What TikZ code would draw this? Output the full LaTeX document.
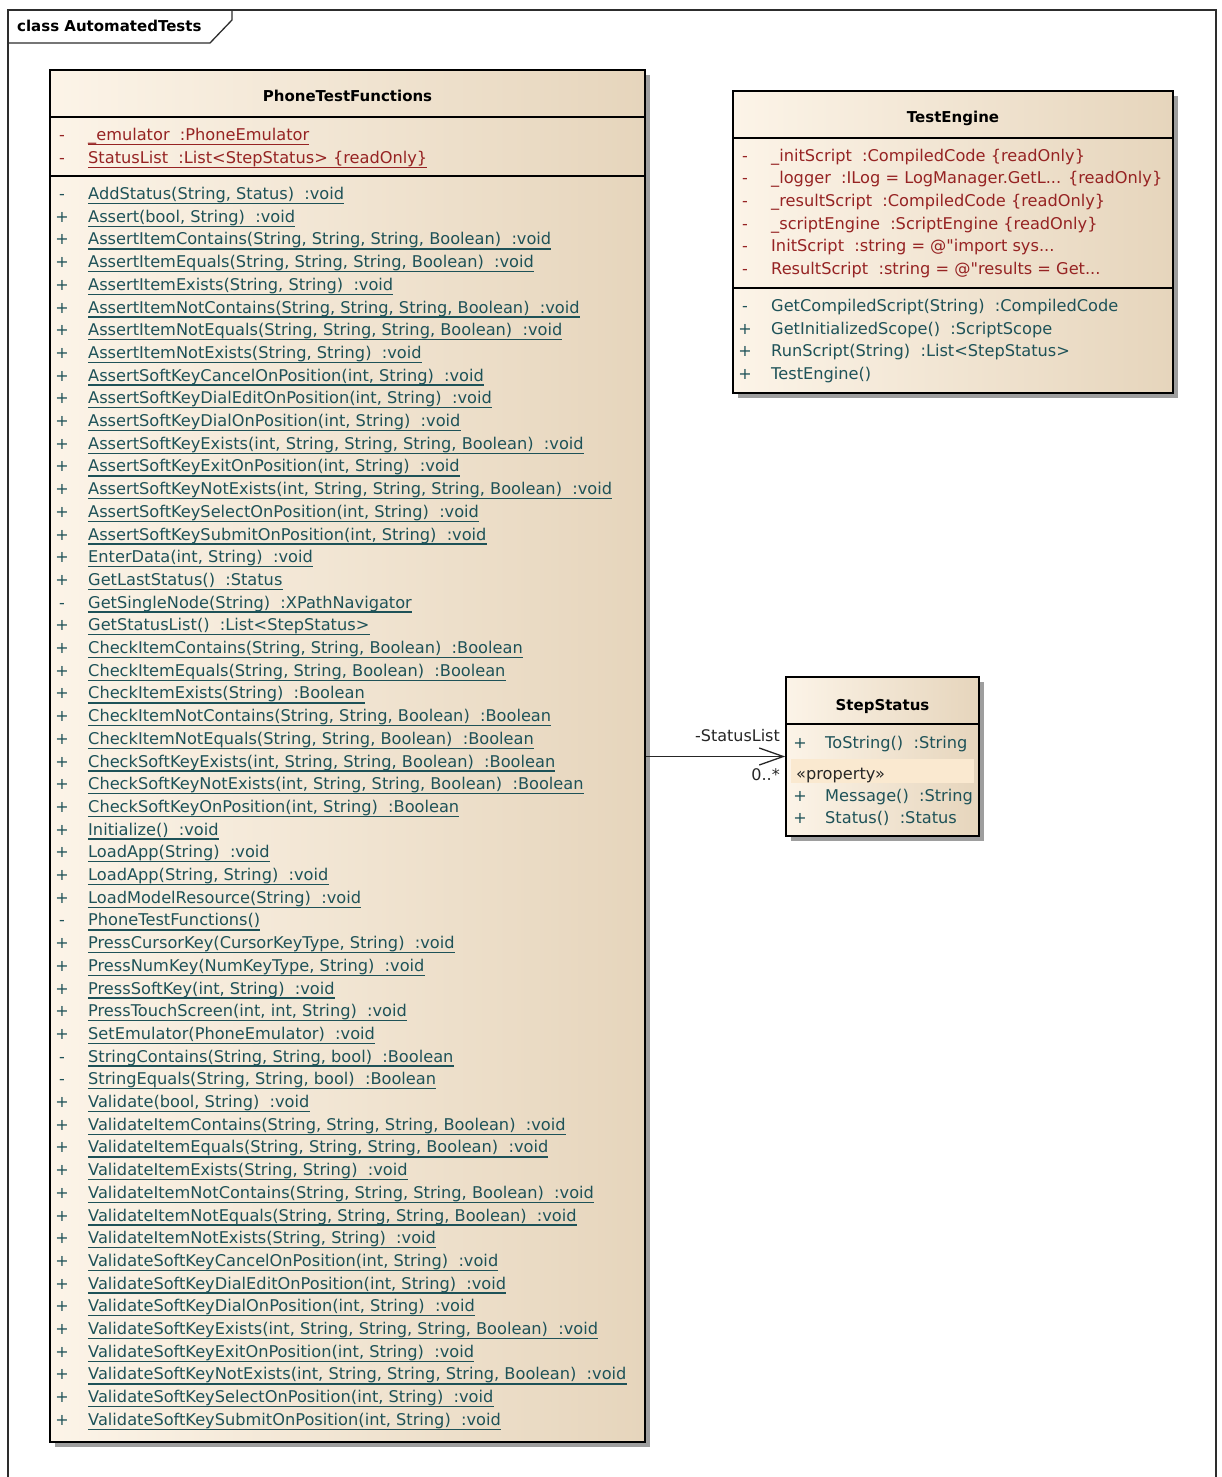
\documentclass[tikz,border=0pt]{standalone}
\usepackage{fontspec}
% no TeX input mapping, so a typed " stays a straight double quote
\setmainfont{DejaVu Sans}[Ligatures=TeXOff]
\usetikzlibrary{shadows,arrows.meta}

\definecolor{attrred}{RGB}{150,35,35}
\definecolor{opteal}{RGB}{30,82,88}
\definecolor{fillL}{RGB}{252,244,232}
\definecolor{fillR}{RGB}{230,213,188}
\definecolor{propband}{RGB}{250,233,208}
\definecolor{framegray}{RGB}{45,45,45}

% three dots kept out of the \foreach list syntax
\newcommand\trunc{...}

\tikzset{
  classbox/.style={draw=black, line width=1.6pt, left color=fillL, right color=fillR,
    inner sep=0pt, rectangle,
    drop shadow={shadow xshift=5pt, shadow yshift=-5pt, fill=black!38, opacity=1}},
  compline/.style={black, line width=1.4pt},
  frameline/.style={framegray, line width=1.3pt},
  classname/.style={font=\fontsize{15}{18}\selectfont\bfseries, inner sep=0pt, anchor=base},
  member/.style={font=\fontsize{16.2}{19}\selectfont, inner sep=0pt, anchor=base west},
  vissym/.style={font=\fontsize{16}{19}\selectfont, inner sep=0pt, anchor=base},
  uline/.style={line width=1.3pt},
  assoc/.style={black!85, line width=1.3pt, -{Straight Barb[length=24pt, width=17pt, line width=1.3pt]}},
  rolelabel/.style={font=\fontsize{16}{19}\selectfont, inner sep=0pt, anchor=base east, text=black!85}
}

\begin{document}
\begin{tikzpicture}[x=1pt, y=-1pt]
\useasboundingbox (0,0) rectangle (1221,1477);
\fill[white] (0,0) rectangle (1221,1477);

% package frame with its name tab
\draw[frameline] (8,1477) -- (8,10) -- (1216,10) -- (1216,1477);
\draw[frameline] (8,43) -- (210,43) -- (232,20) -- (232,10);
\node[font=\fontsize{15}{18}\selectfont\bfseries, inner sep=0pt, anchor=base west] (pkg) at (17,32) {class AutomatedTests};

% ---------------- PhoneTestFunctions ----------------
\node[classbox, minimum width=595pt, minimum height=1372pt] (ptf) at (347.5,756) {};
\draw[compline] (ptf.west |- 0,117) -- (ptf.east |- 0,117);
\draw[compline] (ptf.west |- 0,176) -- (ptf.east |- 0,176);
\node[classname] (ptfname) at (347.5,101.5) {PhoneTestFunctions};

\foreach \vis/\txt [count=\i] in {
  -/{\_emulator~~:PhoneEmulator},
  -/{StatusList~~:List<StepStatus> \{readOnly\}}}
{
  \pgfmathsetmacro\yy{140.5+23*(\i-1)}
  \node[vissym, text=attrred] (pav\i) at (62,\yy) {\vis};
  \node[member, text=attrred] (pa\i) at (88,\yy) {\txt};
  \draw[uline, attrred] ([yshift=-4pt]pa\i.base west) -- ([yshift=-4pt]pa\i.base east);
}

\foreach \vis/\txt [count=\i] in {
  -/{AddStatus(String, Status)~~:void},
  +/{Assert(bool, String)~~:void},
  +/{AssertItemContains(String, String, String, Boolean)~~:void},
  +/{AssertItemEquals(String, String, String, Boolean)~~:void},
  +/{AssertItemExists(String, String)~~:void},
  +/{AssertItemNotContains(String, String, String, Boolean)~~:void},
  +/{AssertItemNotEquals(String, String, String, Boolean)~~:void},
  +/{AssertItemNotExists(String, String)~~:void},
  +/{AssertSoftKeyCancelOnPosition(int, String)~~:void},
  +/{AssertSoftKeyDialEditOnPosition(int, String)~~:void},
  +/{AssertSoftKeyDialOnPosition(int, String)~~:void},
  +/{AssertSoftKeyExists(int, String, String, String, Boolean)~~:void},
  +/{AssertSoftKeyExitOnPosition(int, String)~~:void},
  +/{AssertSoftKeyNotExists(int, String, String, String, Boolean)~~:void},
  +/{AssertSoftKeySelectOnPosition(int, String)~~:void},
  +/{AssertSoftKeySubmitOnPosition(int, String)~~:void},
  +/{EnterData(int, String)~~:void},
  +/{GetLastStatus()~~:Status},
  -/{GetSingleNode(String)~~:XPathNavigator},
  +/{GetStatusList()~~:List<StepStatus>},
  +/{CheckItemContains(String, String, Boolean)~~:Boolean},
  +/{CheckItemEquals(String, String, Boolean)~~:Boolean},
  +/{CheckItemExists(String)~~:Boolean},
  +/{CheckItemNotContains(String, String, Boolean)~~:Boolean},
  +/{CheckItemNotEquals(String, String, Boolean)~~:Boolean},
  +/{CheckSoftKeyExists(int, String, String, Boolean)~~:Boolean},
  +/{CheckSoftKeyNotExists(int, String, String, Boolean)~~:Boolean},
  +/{CheckSoftKeyOnPosition(int, String)~~:Boolean},
  +/{Initialize()~~:void},
  +/{LoadApp(String)~~:void},
  +/{LoadApp(String, String)~~:void},
  +/{LoadModelResource(String)~~:void},
  -/{PhoneTestFunctions()},
  +/{PressCursorKey(CursorKeyType, String)~~:void},
  +/{PressNumKey(NumKeyType, String)~~:void},
  +/{PressSoftKey(int, String)~~:void},
  +/{PressTouchScreen(int, int, String)~~:void},
  +/{SetEmulator(PhoneEmulator)~~:void},
  -/{StringContains(String, String, bool)~~:Boolean},
  -/{StringEquals(String, String, bool)~~:Boolean},
  +/{Validate(bool, String)~~:void},
  +/{ValidateItemContains(String, String, String, Boolean)~~:void},
  +/{ValidateItemEquals(String, String, String, Boolean)~~:void},
  +/{ValidateItemExists(String, String)~~:void},
  +/{ValidateItemNotContains(String, String, String, Boolean)~~:void},
  +/{ValidateItemNotEquals(String, String, String, Boolean)~~:void},
  +/{ValidateItemNotExists(String, String)~~:void},
  +/{ValidateSoftKeyCancelOnPosition(int, String)~~:void},
  +/{ValidateSoftKeyDialEditOnPosition(int, String)~~:void},
  +/{ValidateSoftKeyDialOnPosition(int, String)~~:void},
  +/{ValidateSoftKeyExists(int, String, String, String, Boolean)~~:void},
  +/{ValidateSoftKeyExitOnPosition(int, String)~~:void},
  +/{ValidateSoftKeyNotExists(int, String, String, String, Boolean)~~:void},
  +/{ValidateSoftKeySelectOnPosition(int, String)~~:void},
  +/{ValidateSoftKeySubmitOnPosition(int, String)~~:void}}
{
  \pgfmathsetmacro\yy{199.5+22.7*(\i-1)}
  \node[vissym, text=opteal] (pmv\i) at (62,\yy) {\vis};
  \node[member, text=opteal] (pm\i) at (88,\yy) {\txt};
  \draw[uline, opteal] ([yshift=-4pt]pm\i.base west) -- ([yshift=-4pt]pm\i.base east);
}

% ---------------- TestEngine ----------------
\node[classbox, minimum width=440pt, minimum height=302pt] (te) at (953,242) {};
\draw[compline] (te.west |- 0,138) -- (te.east |- 0,138);
\draw[compline] (te.west |- 0,288) -- (te.east |- 0,288);
\node[classname] (tename) at (953,123) {TestEngine};

\foreach \txt [count=\i] in {
  {\_initScript~~:CompiledCode \{readOnly\}},
  {\_logger~~:ILog = LogManager.GetL\trunc{} \{readOnly\}},
  {\_resultScript~~:CompiledCode \{readOnly\}},
  {\_scriptEngine~~:ScriptEngine \{readOnly\}},
  {InitScript~~:string = @"import sys\trunc},
  {ResultScript~~:string = @"results = Get\trunc}}
{
  \pgfmathsetmacro\yy{161+22.7*(\i-1)}
  \node[vissym, text=attrred] (tav\i) at (745,\yy) {-};
  \node[member, text=attrred] (ta\i) at (771,\yy) {\txt};
}

\foreach \vis/\txt [count=\i] in {
  -/{GetCompiledScript(String)~~:CompiledCode},
  +/{GetInitializedScope()~~:ScriptScope},
  +/{RunScript(String)~~:List<StepStatus>},
  +/{TestEngine()}}
{
  \pgfmathsetmacro\yy{311.7+22.5*(\i-1)}
  \node[vissym, text=opteal] (tmv\i) at (745,\yy) {\vis};
  \node[member, text=opteal] (tm\i) at (771,\yy) {\txt};
}

% ---------------- StepStatus ----------------
\node[classbox, minimum width=193pt, minimum height=159pt] (ss) at (882.5,756.5) {};
\draw[compline] (ss.west |- 0,724) -- (ss.east |- 0,724);
\fill[propband] (791,759) rectangle (974,783);
\node[classname] (ssname) at (882.5,710) {StepStatus};

\node[vissym, text=opteal] (sv1) at (800,748) {+};
\node[member, text=opteal] (s1) at (825,748) {ToString()~~:String};
\node[member, text=black!85] (sprop) at (796,779) {«property»};
\node[vissym, text=opteal] (sv2) at (800,801) {+};
\node[member, text=opteal] (s2) at (825,801) {Message()~~:String};
\node[vissym, text=opteal] (sv3) at (800,823) {+};
\node[member, text=opteal] (s3) at (825,823) {Status()~~:Status};

% ---------------- association ----------------
\draw[assoc] (ptf.east |- ss.west) -- (ss.west);
\node[rolelabel] (role) at (780,741) {-StatusList};
\node[rolelabel] (mult) at (780,780) {0..*};

\end{tikzpicture}
\end{document}
